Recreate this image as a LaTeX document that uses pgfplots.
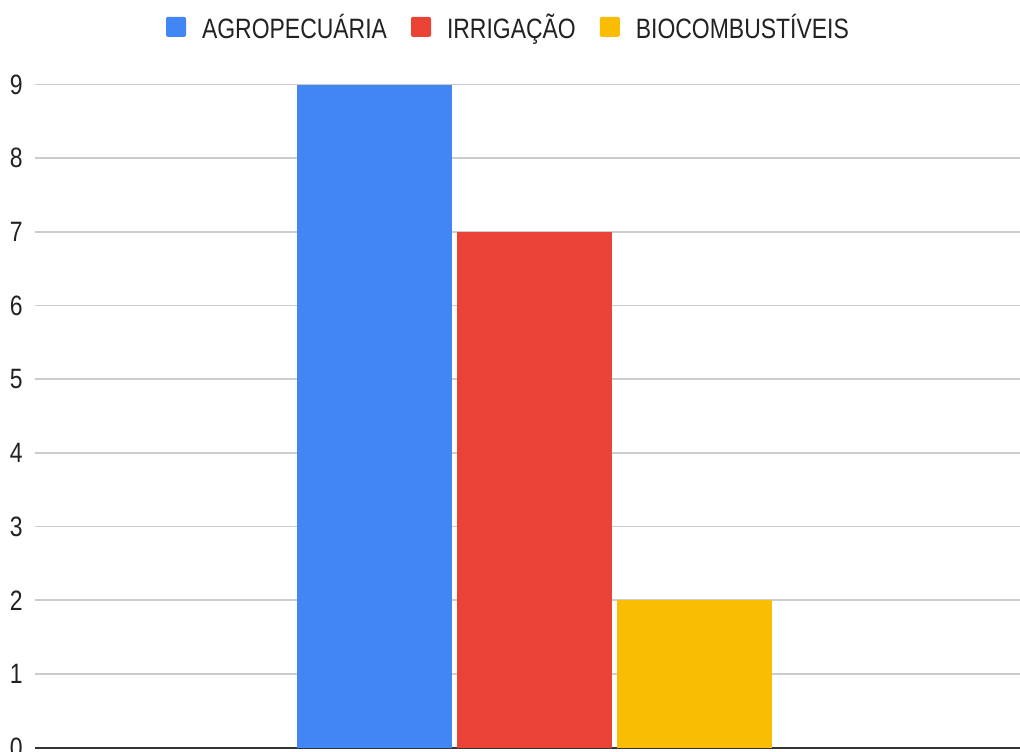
\documentclass[border=0pt]{standalone}
\usepackage{pgfplots}
\pgfplotsset{compat=1.18}
\usepackage{fontspec}
\setmainfont{Liberation Sans}[FakeStretch=0.82]
\definecolor{cblue}{HTML}{4285F4}
\definecolor{cred}{HTML}{EA4335}
\definecolor{cyellow}{HTML}{FBBC04}
\definecolor{cgrid}{HTML}{CCCCCC}
\definecolor{caxis}{HTML}{333333}
\definecolor{ctext}{HTML}{222222}
\begin{document}
\begin{tikzpicture}[x=0.75pt,y=0.75pt]
\useasboundingbox (0,0) rectangle (1020,752);
\begin{axis}[
  at={(35,6)}, anchor=south west,
  scale only axis,
  width=738.75pt, height=497.25pt,
  xmin=35, xmax=1020,
  ymin=0, ymax=9,
  ytick={0,1,...,9},
  xtick=\empty,
  axis y line*=left,
  y axis line style={draw=none},
  axis x line*=bottom,
  x axis line style={caxis, line width=1.5pt, -},
  ymajorgrids,
  grid style={cgrid, line width=1.2pt},
  major tick length=0pt,
  yticklabel style={font=\fontsize{21}{24}\selectfont, text=ctext, anchor=east, inner sep=0pt, xshift=-9pt},
  /pgf/number format/assume math mode=true,
  clip=false,
  legend columns=3,
  legend style={at={(0.481,1.087)}, anchor=center, draw=none, fill=none,
    font=\fontsize{21}{24}\selectfont, text=ctext,
    /tikz/every even column/.append style={column sep=16pt},
    inner sep=0pt},
  legend image code/.code={\fill[#1, rounded corners=1.5pt] (0pt,-7.5pt) rectangle (15pt,7.5pt);},
  legend cell align=left,
]
\addplot[ybar, bar width=155, bar shift=-160, fill=cblue, draw=none] coordinates {(534,9)};
\addlegendentry{\hspace{10pt}AGROPECUÁRIA}
\addplot[ybar, bar width=155, bar shift=0, fill=cred, draw=none] coordinates {(534,7)};
\addlegendentry{\hspace{10pt}IRRIGAÇÃO}
\addplot[ybar, bar width=155, bar shift=160, fill=cyellow, draw=none] coordinates {(534,2)};
\addlegendentry{\hspace{10pt}BIOCOMBUSTÍVEIS}
\end{axis}
\end{tikzpicture}
\end{document}
